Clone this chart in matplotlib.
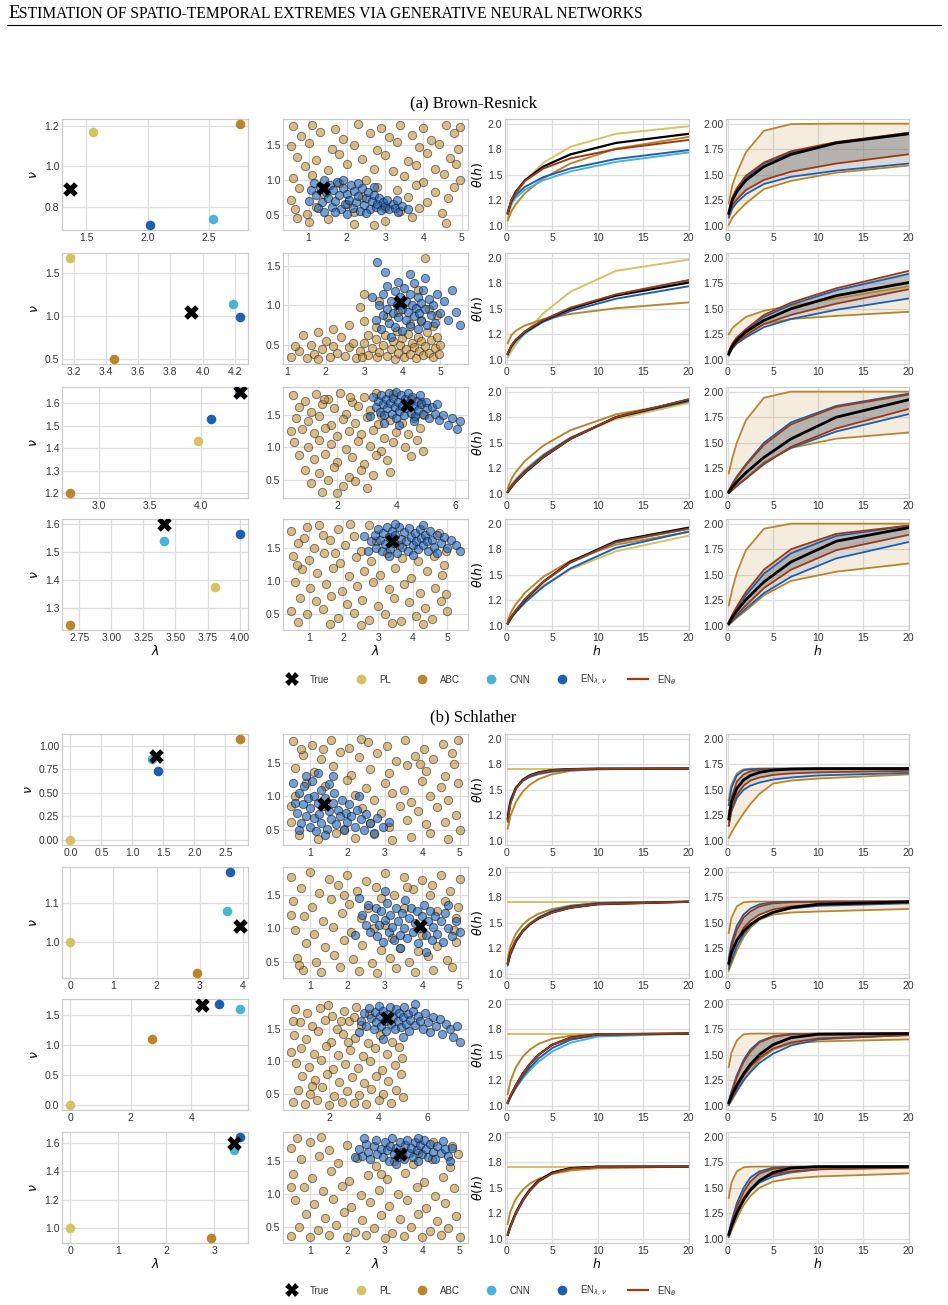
import numpy as np
import matplotlib.pyplot as plt
from matplotlib.lines import Line2D

W, H = 948, 1305

C_TRUE = 'black'
C_PL = '#d5c264'
C_ABC = '#b8862e'
C_CNN = '#4bb3d4'
C_EN = '#1f5faf'
C_ET = '#9b3b14'

# point estimates (lambda, nu), one entry per row
br_true = [(1.37, 0.89), (3.93, 1.04), (4.38, 1.65), (3.41, 1.60)]
br_pl = [(1.55, 1.17), (3.18, 1.67), (3.97, 1.43), (3.81, 1.375)]
br_abc = [(2.75, 1.21), (3.45, 0.50), (2.72, 1.20), (2.68, 1.24)]
br_cnn = [(2.53, 0.74), (4.19, 1.14), (4.37, 1.65), (3.41, 1.54)]
br_en = [(2.02, 0.71), (4.23, 0.99), (4.10, 1.53), (4.00, 1.565)]

sch_true = [(1.38, 0.89), (3.93, 1.04), (4.35, 1.66), (3.41, 1.60)]
sch_pl = [(0.0, 0.0), (0.0, 1.0), (0.0, 0.0), (0.0, 1.0)]
sch_abc = [(2.73, 1.07), (2.93, 0.92), (2.70, 1.10), (2.93, 0.93)]
sch_cnn = [(1.31, 0.86), (3.65, 1.08), (5.60, 1.60), (3.42, 1.55)]
sch_en = [(1.42, 0.73), (3.70, 1.18), (4.93, 1.68), (3.53, 1.64)]

# tick labels of the estimate panels
br_est_xt = [[1.5, 2.0, 2.5], [3.2, 3.4, 3.6, 3.8, 4.0, 4.2], [3.0, 3.5, 4.0],
             [2.75, 3.00, 3.25, 3.50, 3.75, 4.00]]
br_est_yt = [[0.8, 1.0, 1.2], [0.5, 1.0, 1.5], [1.2, 1.3, 1.4, 1.5, 1.6], [1.3, 1.4, 1.5, 1.6]]
sch_est_xt = [[0.0, 0.5, 1.0, 1.5, 2.0, 2.5], [0, 1, 2, 3, 4], [0, 2, 4], [0, 1, 2, 3]]
sch_est_yt = [[0.0, 0.25, 0.5, 0.75, 1.0], [1.0, 1.1], [0.0, 0.5, 1.0, 1.5], [1.0, 1.2, 1.4, 1.6]]
br_smp_xt = [[1, 2, 3, 4, 5], [1, 2, 3, 4, 5], [2, 4, 6], [1, 2, 3, 4, 5]]
sch_smp_xt = [[1, 2, 3, 4, 5], [1, 2, 3, 4, 5], [2, 4, 6], [1, 2, 3, 4, 5]]
smp_yt = [0.5, 1.0, 1.5]

# posterior samples (lambda, nu)
br_abc_smp = [
    [(0.6,1.76),(1.1,1.78),(1.7,1.72),(2.3,1.79),(2.9,1.74),(3.4,1.77),(4.0,1.73),(4.6,1.78),(4.95,1.75),
     (0.8,1.62),(1.3,1.68),(1.9,1.58),(2.6,1.66),(3.1,1.6),(3.7,1.64),(4.2,1.57),(4.8,1.67),
     (0.55,1.48),(1.0,1.52),(1.6,1.44),(2.2,1.5),(2.8,1.42),(3.3,1.53),(3.9,1.46),(4.4,1.51),(4.9,1.43),
     (0.7,1.33),(1.2,1.28),(1.8,1.37),(2.4,1.3),(3.0,1.35),(3.6,1.27),(4.1,1.38),(4.7,1.31),
     (0.9,1.2),(1.5,1.14),(2.0,1.22),(2.7,1.16),(3.2,1.12),(3.8,1.21),(4.3,1.15),(4.85,1.23),
     (0.6,1.02),(1.1,1.07),(2.5,1.0),(3.5,1.05),(4.0,0.97),(4.55,1.08),(4.95,1.0),
     (0.75,0.88),(3.3,0.85),(3.8,0.92),(4.3,0.83),(4.8,0.9),(0.55,0.72),(3.6,0.76),(4.1,0.68),(4.65,0.74),
     (0.65,0.58),(0.95,0.52),(3.4,0.56),(3.9,0.6),(4.5,0.53),(1.0,0.4),(1.5,0.45),(2.2,0.38),(3.0,0.42),
     (3.7,0.47),(4.6,0.39),(0.7,0.46),(2.7,0.36),(1.4,0.8),(2.0,0.65),(2.8,0.9),(1.8,0.95),(2.4,0.75),
     (3.0,0.6),(1.2,0.62),(2.2,0.55)],
    [(1.1,0.35),(1.3,0.42),(1.5,0.33),(1.7,0.38),(1.9,0.45),(2.1,0.34),(2.3,0.4),(2.5,0.36),(2.6,0.47),
     (2.8,0.33),(2.9,0.42),(3.0,0.52),(3.1,0.37),(3.2,0.46),(3.3,0.57),(3.35,0.34),(3.4,0.41),(3.5,0.5),
     (3.55,0.62),(3.6,0.36),(3.7,0.45),(3.75,0.55),(3.8,0.32),(3.85,0.68),(3.9,0.4),(3.95,0.5),(4.0,0.58),
     (4.05,0.35),(4.1,0.44),(4.15,0.64),(4.2,0.38),(4.25,0.52),(4.3,0.47),(4.35,0.33),(4.4,0.6),(4.45,0.42),
     (4.5,0.55),(4.55,0.37),(4.6,0.49),(4.65,0.66),(4.7,0.4),(4.75,0.56),(4.8,0.34),(4.85,0.46),(4.9,0.6),
     (4.95,0.38),(5.0,0.5),(2.0,0.55),(2.4,0.6),(2.7,0.52),(1.6,0.5),(1.2,0.48),(3.1,0.62),(2.2,0.48),
     (1.8,0.32),(2.95,0.35),(2.6,0.75),(3.0,0.8),(3.3,0.72),(3.6,0.85),(4.2,0.76),(4.5,0.82),(4.8,0.74),
     (2.2,0.7),(3.9,0.92),(4.7,0.95),(3.4,1.05),(2.9,0.98),(4.4,1.2),(3.0,1.15),(4.9,0.88),(4.6,1.6),
     (1.8,0.66),(1.4,0.62)],
    [(0.5,1.8),(0.9,1.72),(1.3,1.82),(1.7,1.75),(2.1,1.83),(2.5,1.7),(2.9,1.78),(3.3,1.84),(0.7,1.62),
     (1.1,1.55),(1.5,1.66),(1.9,1.6),(2.3,1.52),(2.7,1.64),(3.1,1.58),(3.5,1.5),(0.6,1.45),(1.0,1.4),
     (1.4,1.48),(1.8,1.35),(2.2,1.44),(2.6,1.38),(3.0,1.46),(3.4,1.36),(3.8,1.42),(4.2,1.38),(4.6,1.45),
     (0.8,1.28),(1.2,1.22),(1.6,1.3),(2.0,1.18),(2.4,1.25),(2.8,1.2),(3.2,1.27),(3.6,1.15),(4.0,1.24),
     (4.4,1.2),(4.8,1.3),(0.55,1.08),(1.0,1.0),(1.4,1.12),(1.8,1.05),(2.3,0.98),(2.7,1.1),(3.1,1.02),
     (3.5,0.95),(3.9,1.08),(4.3,1.0),(4.7,1.12),(0.7,0.88),(1.2,0.82),(1.6,0.9),(2.0,0.78),(2.5,0.85),
     (2.9,0.75),(3.3,0.88),(3.7,0.8),(4.5,0.86),(4.9,0.95),(0.9,0.65),(1.4,0.6),(1.9,0.7),(2.4,0.55),
     (2.8,0.65),(3.2,0.58),(3.8,0.62),(1.1,0.45),(1.7,0.5),(2.2,0.4),(2.6,0.48),(3.0,0.38),(1.5,0.32),
     (2.0,0.3),(4.95,1.5),(4.85,1.7),(3.9,1.82),(4.5,1.75),(0.45,1.25),(2.45,1.78),(1.55,1.74)],
    [(0.5,1.75),(0.95,1.82),(1.4,1.7),(1.85,1.78),(2.3,1.68),(2.75,1.84),(0.7,1.58),(1.15,1.5),(1.6,1.62),
     (2.05,1.55),(2.5,1.46),(2.95,1.6),(0.55,1.38),(1.0,1.32),(1.45,1.42),(1.9,1.28),(2.35,1.36),(2.8,1.3),
     (3.25,1.42),(3.7,1.35),(4.15,1.3),(4.6,1.38),(4.95,1.45),(0.8,1.18),(1.25,1.12),(1.7,1.2),(2.15,1.08),
     (2.6,1.15),(3.05,1.1),(3.5,1.2),(3.95,1.05),(4.4,1.15),(4.85,1.1),(0.6,0.98),(1.05,0.9),(1.5,0.95),
     (1.95,0.85),(2.4,0.92),(2.85,0.98),(3.3,0.88),(3.75,0.95),(4.2,0.82),(4.65,0.9),(0.75,0.75),(1.2,0.7),
     (1.65,0.78),(2.1,0.65),(2.55,0.72),(3.0,0.62),(3.45,0.74),(3.9,0.68),(4.35,0.6),(4.8,0.7),(0.5,0.55),
     (0.95,0.5),(1.4,0.58),(1.85,0.45),(2.3,0.52),(2.75,0.42),(3.2,0.5),(3.65,0.4),(4.1,0.48),(4.55,0.43),
     (5.0,0.55),(0.7,0.38),(1.6,0.36),(2.5,0.34),(3.4,0.37),(4.3,0.35),(4.95,0.8),(4.9,1.25),(4.75,1.72),
     (0.85,1.65),(1.3,1.85),(2.2,1.86),(1.75,1.42),(3.6,1.55),(0.65,1.25)],
]
br_en_smp = [
    [(1.05,0.85),(1.15,0.95),(1.2,0.78),(1.3,0.9),(1.35,0.68),(1.4,0.99),(1.45,0.82),(1.5,0.74),(1.55,0.93),
     (1.6,0.62),(1.65,0.86),(1.7,0.7),(1.75,0.97),(1.8,0.78),(1.85,0.58),(1.9,0.88),(1.95,0.66),(2.0,0.8),
     (2.05,0.72),(2.1,0.92),(2.15,0.6),(2.2,0.84),(2.25,0.69),(2.3,0.77),(2.35,0.56),(2.4,0.88),(2.45,0.64),
     (2.5,0.74),(2.55,0.82),(2.6,0.58),(2.65,0.7),(2.7,0.79),(2.75,0.62),(2.8,0.66),(2.85,0.74),(2.9,0.57),
     (2.95,0.69),(3.0,0.63),(3.05,0.72),(3.1,0.58),(3.2,0.66),(3.25,0.6),(3.35,0.55),(3.45,0.63),(3.6,0.58),
     (1.25,0.6),(1.0,0.7),(1.7,0.55),(2.0,0.52),(2.3,0.95),(1.9,1.0),(2.7,0.9),(3.3,0.72),(1.4,0.55),(2.5,0.53)],
    [(3.4,1.0),(3.5,0.88),(3.5,1.15),(3.6,0.95),(3.6,1.25),(3.65,0.78),(3.7,1.05),(3.75,0.9),(3.8,1.18),
     (3.8,0.72),(3.85,1.0),(3.9,1.3),(3.9,0.85),(3.95,1.1),(4.0,0.95),(4.0,0.68),(4.05,1.22),(4.1,0.82),
     (4.1,1.05),(4.15,0.92),(4.2,1.15),(4.2,0.74),(4.25,1.0),(4.3,0.86),(4.3,1.28),(4.35,0.97),(4.4,1.1),
     (4.4,0.7),(4.45,0.9),(4.5,1.03),(4.5,0.8),(4.55,1.2),(4.6,0.95),(4.65,0.75),(4.7,1.08),(4.75,0.88),
     (4.8,1.0),(4.85,0.78),(4.9,1.15),(5.0,0.9),(5.1,1.05),(5.2,0.82),(5.4,0.92),(5.5,0.75),(3.35,1.55),
     (3.55,1.42),(3.45,0.7),(3.3,0.82),(3.7,0.6),(4.2,1.4),(4.6,1.35),(3.2,1.1),(5.3,1.2)],
    [(3.3,1.62),(3.4,1.72),(3.45,1.55),(3.5,1.8),(3.55,1.66),(3.6,1.5),(3.65,1.75),(3.7,1.6),(3.75,1.83),
     (3.8,1.68),(3.85,1.52),(3.9,1.76),(3.95,1.62),(4.0,1.85),(4.0,1.45),(4.05,1.7),(4.1,1.56),(4.15,1.8),
     (4.2,1.64),(4.25,1.5),(4.3,1.74),(4.35,1.6),(4.4,1.84),(4.45,1.68),(4.5,1.53),(4.55,1.77),(4.6,1.63),
     (4.65,1.48),(4.7,1.72),(4.75,1.58),(4.8,1.8),(4.85,1.66),(4.9,1.52),(5.0,1.7),(5.05,1.6),(5.1,1.45),
     (5.2,1.62),(5.3,1.52),(5.45,1.42),(5.6,1.5),(5.75,1.35),(5.9,1.45),(6.05,1.28),(6.15,1.4),(3.2,1.78),
     (3.1,1.48),(3.6,1.38),(4.1,1.35),(4.6,1.4),(5.4,1.66)],
    [(2.8,1.6),(2.9,1.7),(2.95,1.5),(3.0,1.78),(3.05,1.62),(3.1,1.45),(3.15,1.72),(3.2,1.56),(3.25,1.82),
     (3.3,1.66),(3.35,1.48),(3.4,1.76),(3.45,1.58),(3.5,1.7),(3.55,1.42),(3.6,1.82),(3.65,1.64),(3.7,1.52),
     (3.75,1.74),(3.8,1.6),(3.85,1.45),(3.9,1.8),(3.95,1.66),(4.0,1.54),(4.05,1.72),(4.1,1.6),(4.15,1.48),
     (4.2,1.78),(4.25,1.65),(4.3,1.55),(4.35,1.7),(4.4,1.6),(4.45,1.45),(4.5,1.75),(4.55,1.62),(4.6,1.52),
     (4.7,1.7),(4.8,1.58),(4.9,1.66),(5.0,1.5),(5.1,1.62),(5.25,1.55),(5.35,1.45),(2.7,1.45),(2.6,1.68),
     (3.3,1.38),(4.0,1.4),(4.7,1.42),(3.5,1.86),(4.3,1.85)],
]
sch_abc_smp = [
    [(0.55,1.82),(1.05,1.76),(1.55,1.84),(2.05,1.72),(2.55,1.8),(3.05,1.75),(3.55,1.83),(4.05,1.7),(4.55,1.78),
     (4.95,1.84),(0.8,1.62),(1.3,1.55),(1.8,1.66),(2.3,1.58),(2.8,1.64),(3.3,1.52),(3.8,1.6),(4.3,1.56),
     (4.8,1.65),(0.6,1.42),(1.1,1.36),(1.6,1.45),(2.1,1.32),(2.6,1.4),(3.1,1.34),(3.6,1.46),(4.1,1.38),
     (4.6,1.3),(0.9,1.2),(1.4,1.15),(2.0,1.24),(2.5,1.12),(3.0,1.2),(3.5,1.1),(4.0,1.22),(4.5,1.14),
     (4.95,1.2),(2.2,1.02),(2.7,0.95),(3.2,1.05),(3.7,0.92),(4.2,1.0),(4.7,0.94),(2.4,0.82),(2.9,0.75),
     (3.4,0.85),(3.9,0.78),(4.4,0.84),(4.9,0.72),(0.5,0.62),(2.6,0.6),(3.1,0.55),(3.6,0.65),(4.1,0.58),
     (4.6,0.62),(0.7,0.42),(1.2,0.36),(1.7,0.45),(2.2,0.38),(2.7,0.44),(3.2,0.35),(3.7,0.4),(4.2,0.46),
     (4.7,0.37),(5.0,0.5),(0.6,1.0),(0.5,0.85),(1.9,0.52),(4.85,1.48),(0.75,1.7),(3.95,1.48),(1.35,1.7),
     (2.35,1.85)],
    [(0.5,1.76),(1.0,1.84),(1.5,1.74),(2.0,1.8),(2.5,1.7),(3.0,1.82),(3.5,1.76),(4.0,1.72),(4.5,1.8),
     (5.0,1.74),(0.75,1.6),(1.25,1.52),(1.75,1.64),(2.25,1.56),(2.75,1.62),(3.25,1.5),(3.75,1.58),(4.25,1.65),
     (4.75,1.55),(0.55,1.4),(1.05,1.32),(1.55,1.44),(2.05,1.36),(2.55,1.3),(4.6,1.4),(4.95,1.32),(0.85,1.18),
     (1.35,1.1),(1.85,1.22),(2.35,1.15),(4.9,1.15),(0.6,0.98),(1.1,0.92),(1.6,1.02),(2.1,0.95),(4.85,0.98),
     (0.9,0.78),(1.4,0.72),(1.9,0.82),(2.4,0.75),(2.9,0.68),(3.4,0.7),(3.9,0.66),(4.4,0.74),(4.9,0.8),
     (0.65,0.56),(1.15,0.5),(1.65,0.6),(2.15,0.54),(2.65,0.48),(3.15,0.56),(3.65,0.5),(4.15,0.58),(4.65,0.52),
     (0.8,0.38),(1.3,0.34),(1.8,0.42),(2.3,0.36),(2.8,0.33),(3.3,0.4),(3.8,0.35),(4.3,0.38),(4.8,0.42),
     (3.0,1.05),(3.5,1.3),(4.0,0.9),(3.2,0.86),(4.4,1.25),(2.7,1.0),(0.5,1.2),(1.9,1.5),(3.6,1.62),
     (4.2,1.5),(2.9,1.45),(0.7,0.45)],
    [(0.6,1.8),(1.1,1.74),(1.6,1.82),(2.1,1.7),(2.6,1.78),(3.1,1.84),(0.8,1.6),(1.3,1.54),(1.8,1.64),
     (2.3,1.5),(2.8,1.62),(3.3,1.56),(0.55,1.4),(1.05,1.34),(1.55,1.46),(2.05,1.3),(2.55,1.42),(3.05,1.36),
     (3.55,1.28),(4.05,1.4),(4.55,1.3),(0.85,1.2),(1.35,1.12),(1.85,1.24),(2.35,1.1),(2.85,1.18),(3.35,1.08),
     (3.85,1.2),(4.35,1.12),(4.85,1.22),(0.65,0.98),(1.15,0.92),(1.65,1.02),(2.15,0.88),(2.65,0.96),
     (3.15,0.9),(3.65,1.0),(4.15,0.86),(4.65,0.95),(0.9,0.78),(1.4,0.72),(1.9,0.8),(2.4,0.68),(2.9,0.76),
     (3.4,0.66),(3.9,0.78),(4.4,0.7),(4.9,0.8),(0.7,0.56),(1.2,0.5),(1.7,0.6),(2.2,0.46),(2.7,0.55),
     (3.2,0.48),(3.7,0.58),(4.2,0.5),(4.7,0.56),(0.5,0.38),(1.0,0.35),(1.5,0.4),(2.0,0.33),(2.5,0.38),
     (3.0,0.36),(3.5,0.34),(4.0,0.4),(4.5,0.36),(5.0,0.45),(4.95,1.05),(0.5,1.62),(1.95,1.86),(2.45,1.62),
     (3.6,1.72),(3.0,1.68),(0.45,1.15),(1.3,0.62),(2.75,1.3)],
    [(0.5,1.7),(1.0,1.78),(1.5,1.66),(2.0,1.74),(4.8,1.72),(4.95,1.6),(0.75,1.52),(1.25,1.58),(1.75,1.46),
     (2.25,1.54),(2.75,1.42),(3.25,1.5),(3.75,1.45),(4.25,1.52),(4.75,1.4),(0.55,1.3),(1.05,1.24),(1.55,1.34),
     (2.05,1.2),(2.55,1.28),(3.05,1.22),(3.55,1.32),(4.05,1.18),(4.55,1.26),(0.85,1.1),(1.35,1.04),(1.85,1.12),
     (2.35,0.98),(2.85,1.06),(3.35,1.0),(3.85,1.1),(4.35,0.96),(4.85,1.08),(0.6,0.9),(1.1,0.84),(1.6,0.92),
     (2.1,0.8),(2.6,0.88),(3.1,0.82),(3.6,0.9),(4.1,0.78),(4.6,0.86),(0.9,0.7),(1.4,0.64),(1.9,0.72),
     (2.4,0.6),(2.9,0.68),(3.4,0.62),(3.9,0.7),(4.4,0.58),(4.9,0.66),(0.7,0.5),(1.2,0.45),(1.7,0.52),
     (2.2,0.42),(2.7,0.48),(3.2,0.4),(3.7,0.5),(4.2,0.44),(4.7,0.48),(0.5,0.36),(1.0,0.34),(1.5,0.38),
     (2.0,0.35),(2.5,0.37),(3.0,0.33),(3.5,0.36),(4.0,0.34),(4.5,0.38),(5.0,0.35),(0.65,1.84),(1.3,1.86),
     (4.3,1.78),(2.9,1.3),(0.5,1.1),(3.9,1.62)],
]
sch_en_smp = [
    [(0.6,0.9),(0.65,0.75),(0.7,1.05),(0.75,0.6),(0.8,0.88),(0.85,1.15),(0.9,0.7),(0.95,0.98),(1.0,0.55),
     (1.0,0.82),(1.05,1.22),(1.1,0.68),(1.1,1.0),(1.15,0.48),(1.2,0.9),(1.25,0.74),(1.3,1.1),(1.3,0.6),
     (1.35,0.85),(1.4,0.97),(1.45,0.52),(1.5,0.78),(1.5,1.18),(1.55,0.66),(1.6,0.9),(1.65,1.05),(1.7,0.58),
     (1.75,0.8),(1.8,0.7),(1.85,0.95),(1.9,0.5),(1.95,0.75),(2.0,0.62),(2.05,0.88),(2.1,0.7),(2.2,0.55),
     (2.25,0.8),(2.35,0.66),(2.45,0.5),(2.5,0.74),(2.6,0.6),(2.7,0.45),(2.8,0.68),(2.95,0.55),(3.1,0.62),
     (0.55,1.2),(0.9,1.3),(1.6,1.3),(0.7,0.5),(1.4,0.42),(2.3,1.0),(1.2,1.35)],
    [(2.4,1.2),(2.5,1.05),(2.55,1.35),(2.6,0.95),(2.7,1.15),(2.75,1.3),(2.8,0.88),(2.85,1.05),(2.9,1.25),
     (2.95,0.8),(3.0,1.12),(3.05,1.38),(3.1,0.95),(3.15,1.2),(3.2,1.02),(3.25,0.82),(3.3,1.3),(3.35,1.1),
     (3.4,0.9),(3.45,1.22),(3.5,1.0),(3.55,1.42),(3.6,0.85),(3.65,1.15),(3.7,1.3),(3.75,0.95),(3.8,1.08),
     (3.85,1.25),(3.9,0.78),(3.95,1.0),(4.0,1.18),(4.05,1.35),(4.1,0.9),(4.15,1.1),(4.2,1.25),(4.25,0.82),
     (4.3,1.02),(4.35,1.18),(4.4,0.92),(4.5,1.1),(4.55,0.8),(4.6,1.22),(4.7,1.0),(4.8,0.88),(4.9,1.1),
     (5.0,0.95),(2.3,1.45),(3.0,1.55),(3.4,0.7),(4.1,0.65),(4.7,1.35),(2.2,0.9)],
    [(3.3,1.62),(3.4,1.75),(3.5,1.55),(3.6,1.82),(3.7,1.66),(3.8,1.5),(3.85,1.76),(3.9,1.6),(4.0,1.85),
     (4.05,1.7),(4.1,1.54),(4.2,1.78),(4.25,1.62),(4.3,1.46),(4.4,1.72),(4.45,1.84),(4.5,1.58),(4.6,1.68),
     (4.65,1.5),(4.7,1.8),(4.8,1.62),(4.85,1.74),(4.9,1.52),(5.0,1.68),(5.05,1.84),(5.1,1.58),(5.2,1.72),
     (5.25,1.46),(5.3,1.64),(5.4,1.78),(5.5,1.56),(5.6,1.7),(5.7,1.62),(5.8,1.5),(5.9,1.74),(6.0,1.6),
     (6.1,1.45),(6.2,1.68),(6.35,1.55),(6.5,1.65),(6.6,1.42),(6.75,1.58),(6.9,1.5),(7.05,1.38),(7.2,1.55),
     (7.3,1.3),(4.2,1.35),(5.5,1.88),(3.2,1.45),(5.0,1.38)],
    [(2.3,1.68),(2.4,1.58),(2.5,1.76),(2.55,1.64),(2.6,1.52),(2.7,1.72),(2.75,1.82),(2.8,1.6),(2.9,1.68),
     (2.95,1.55),(3.0,1.78),(3.05,1.66),(3.1,1.5),(3.15,1.72),(3.2,1.84),(3.25,1.6),(3.3,1.7),(3.35,1.56),
     (3.4,1.78),(3.45,1.64),(3.5,1.52),(3.55,1.74),(3.6,1.82),(3.65,1.62),(3.7,1.7),(3.75,1.56),(3.8,1.78),
     (3.85,1.66),(3.9,1.5),(3.95,1.74),(4.0,1.6),(4.05,1.82),(4.1,1.68),(4.15,1.55),(4.2,1.76),(4.3,1.64),
     (4.35,1.52),(4.4,1.72),(4.5,1.62),(4.55,1.8),(4.6,1.68),(4.7,1.58),(4.8,1.7),(2.2,1.55),(2.45,1.85),
     (3.3,1.45),(3.9,1.85),(4.75,1.5)],
]

# extremal coefficient theta(h) read at these lags
h_br = [0.1, 0.5, 1, 2, 4, 7, 12, 20]
h_sch = [0.1, 0.4, 1, 1.75, 2.5, 3.5, 5, 7, 10, 20]

br_theta_true = [[1.124,1.250,1.336,1.446,1.580,1.699,1.811,1.900],
                 [1.059,1.136,1.194,1.275,1.386,1.500,1.628,1.756],
                 [1.018,1.066,1.118,1.207,1.357,1.538,1.750,1.920],
                 [1.024,1.086,1.148,1.256,1.430,1.626,1.828,1.960]]
br_theta_pl = [[1.080,1.203,1.301,1.438,1.616,1.773,1.900,1.974],
               [1.022,1.085,1.151,1.266,1.454,1.666,1.870,1.980],
               [1.029,1.091,1.148,1.240,1.385,1.547,1.730,1.888],
               [1.033,1.099,1.158,1.252,1.394,1.552,1.729,1.882]]
br_theta_abc = [[1.053,1.142,1.214,1.320,1.465,1.610,1.755,1.870],
                [1.163,1.242,1.286,1.337,1.397,1.449,1.505,1.562],
                [1.055,1.144,1.216,1.322,1.471,1.622,1.777,1.902],
                [1.052,1.141,1.214,1.323,1.479,1.636,1.794,1.918]]
br_theta_cnn = [[1.120,1.215,1.277,1.353,1.446,1.533,1.626,1.718],
                [1.047,1.118,1.175,1.257,1.374,1.497,1.638,1.777],
                [1.018,1.067,1.119,1.208,1.358,1.539,1.750,1.918],
                [1.026,1.091,1.154,1.260,1.428,1.616,1.812,1.949]]
br_theta_en = [[1.137,1.240,1.303,1.382,1.476,1.562,1.654,1.741],
               [1.062,1.138,1.194,1.270,1.373,1.478,1.598,1.720],
               [1.023,1.080,1.135,1.227,1.376,1.549,1.745,1.907],
               [1.022,1.078,1.134,1.229,1.383,1.562,1.763,1.922]]
br_theta_et = [[1.120,1.250,1.330,1.440,1.560,1.660,1.750,1.840],
               [1.060,1.140,1.200,1.280,1.390,1.510,1.640,1.780],
               [1.020,1.070,1.120,1.210,1.360,1.540,1.750,1.925],
               [1.024,1.090,1.150,1.260,1.430,1.620,1.820,1.950]]

# pointwise bands
br_abc_hi = [[1.22,1.40,1.52,1.72,1.93,1.995,2.0,2.0],
             [1.25,1.31,1.35,1.42,1.48,1.53,1.60,1.72],
             [1.20,1.35,1.50,1.72,1.94,2.0,2.0,2.0],
             [1.20,1.36,1.52,1.74,1.95,2.0,2.0,2.0]]
br_abc_lo = [[1.01,1.08,1.13,1.22,1.36,1.44,1.52,1.59],
             [1.04,1.12,1.18,1.26,1.35,1.40,1.43,1.47],
             [1.01,1.04,1.08,1.15,1.31,1.45,1.54,1.60],
             [1.01,1.04,1.08,1.15,1.30,1.44,1.53,1.61]]
br_en_hi = [[1.12,1.26,1.35,1.47,1.61,1.72,1.81,1.91],
            [1.08,1.15,1.21,1.29,1.42,1.54,1.68,1.84],
            [1.03,1.10,1.17,1.29,1.50,1.70,1.86,1.98],
            [1.03,1.10,1.17,1.30,1.51,1.71,1.88,1.98]]
br_en_lo = [[1.08,1.17,1.23,1.31,1.41,1.48,1.54,1.61],
            [1.05,1.11,1.16,1.22,1.32,1.40,1.49,1.60],
            [1.01,1.04,1.08,1.15,1.30,1.45,1.61,1.78],
            [1.01,1.05,1.09,1.17,1.32,1.48,1.66,1.82]]
br_et_hi = [[1.14,1.28,1.37,1.49,1.62,1.73,1.82,1.91],
            [1.08,1.16,1.22,1.30,1.44,1.56,1.70,1.87],
            [1.03,1.09,1.16,1.28,1.48,1.68,1.85,1.97],
            [1.03,1.11,1.19,1.33,1.55,1.75,1.90,1.98]]
br_et_lo = [[1.10,1.20,1.26,1.35,1.45,1.53,1.61,1.70],
            [1.06,1.12,1.17,1.24,1.35,1.44,1.55,1.69],
            [1.01,1.04,1.08,1.15,1.29,1.46,1.64,1.83],
            [1.02,1.06,1.11,1.20,1.37,1.55,1.74,1.89]]

sch_theta_true = [[1.215,1.376,1.514,1.596,1.639,1.670,1.692,1.702,1.706,1.707],
                  [1.104,1.211,1.327,1.419,1.482,1.542,1.601,1.647,1.681,1.705],
                  [1.031,1.097,1.204,1.315,1.405,1.501,1.598,1.667,1.700,1.707],
                  [1.042,1.126,1.256,1.381,1.477,1.569,1.649,1.692,1.706,1.707]]
sch_theta_pl = [[1.707,1.707,1.707,1.707,1.707,1.707,1.707,1.707,1.707,1.707],
                [1.707,1.707,1.707,1.707,1.707,1.707,1.707,1.707,1.707,1.707],
                [1.707,1.707,1.707,1.707,1.707,1.707,1.707,1.707,1.707,1.707],
                [1.707,1.707,1.707,1.707,1.707,1.707,1.707,1.707,1.707,1.707]]
sch_theta_abc = [[1.120,1.245,1.381,1.481,1.547,1.604,1.653,1.684,1.701,1.707],
                 [1.148,1.272,1.394,1.481,1.538,1.588,1.634,1.668,1.691,1.706],
                 [1.115,1.240,1.378,1.481,1.548,1.607,1.656,1.686,1.702,1.707],
                 [1.146,1.270,1.392,1.480,1.538,1.588,1.635,1.669,1.691,1.706]]
sch_theta_cnn = [[1.228,1.389,1.523,1.601,1.642,1.672,1.692,1.702,1.706,1.707],
                 [1.101,1.209,1.331,1.426,1.493,1.555,1.614,1.659,1.689,1.707],
                 [1.028,1.085,1.175,1.268,1.347,1.434,1.532,1.617,1.678,1.707],
                 [1.046,1.133,1.263,1.386,1.479,1.568,1.646,1.690,1.706,1.707]]
sch_theta_en = [[1.259,1.405,1.519,1.587,1.624,1.654,1.678,1.693,1.701,1.707],
                [1.084,1.187,1.310,1.412,1.483,1.551,1.616,1.663,1.693,1.707],
                [1.027,1.085,1.182,1.284,1.370,1.464,1.566,1.646,1.694,1.707],
                [1.038,1.118,1.244,1.368,1.466,1.560,1.644,1.691,1.706,1.707]]
sch_theta_et = [[1.190,1.370,1.510,1.590,1.635,1.665,1.690,1.700,1.705,1.707],
                [1.100,1.210,1.330,1.420,1.485,1.545,1.600,1.648,1.682,1.705],
                [1.030,1.100,1.200,1.315,1.405,1.500,1.598,1.665,1.700,1.707],
                [1.040,1.120,1.250,1.375,1.470,1.560,1.640,1.688,1.703,1.707]]

sch_abc_hi = [[1.40,1.55,1.66,1.70,1.706,1.707,1.707,1.707,1.707,1.707],
              [1.40,1.55,1.66,1.70,1.706,1.707,1.707,1.707,1.707,1.707],
              [1.38,1.52,1.64,1.70,1.706,1.707,1.707,1.707,1.707,1.707],
              [1.40,1.55,1.66,1.70,1.706,1.707,1.707,1.707,1.707,1.707]]
sch_abc_lo = [[1.03,1.08,1.17,1.27,1.36,1.46,1.56,1.59,1.61,1.65],
              [1.03,1.10,1.23,1.36,1.45,1.53,1.58,1.60,1.61,1.635],
              [1.01,1.05,1.14,1.25,1.34,1.45,1.55,1.61,1.63,1.65],
              [1.02,1.08,1.20,1.33,1.42,1.50,1.56,1.59,1.61,1.64]]
sch_en_hi = [[1.35,1.52,1.64,1.69,1.70,1.705,1.706,1.707,1.707,1.707],
             [1.15,1.30,1.47,1.58,1.64,1.68,1.70,1.705,1.707,1.707],
             [1.04,1.14,1.30,1.45,1.55,1.63,1.68,1.70,1.706,1.707],
             [1.05,1.17,1.35,1.50,1.60,1.66,1.695,1.705,1.707,1.707]]
sch_en_lo = [[1.15,1.29,1.42,1.50,1.54,1.57,1.60,1.62,1.64,1.665],
             [1.05,1.13,1.27,1.39,1.47,1.54,1.60,1.64,1.665,1.69],
             [1.01,1.06,1.15,1.25,1.33,1.42,1.51,1.59,1.65,1.695],
             [1.02,1.10,1.24,1.38,1.47,1.55,1.61,1.65,1.68,1.70]]
sch_et_hi = [[1.25,1.42,1.58,1.65,1.68,1.695,1.70,1.705,1.707,1.71],
             [1.12,1.26,1.43,1.55,1.61,1.66,1.69,1.70,1.706,1.71],
             [1.03,1.12,1.28,1.43,1.53,1.62,1.675,1.70,1.706,1.71],
             [1.04,1.14,1.31,1.46,1.56,1.64,1.685,1.70,1.706,1.71]]
sch_et_lo = [[1.15,1.30,1.45,1.54,1.59,1.62,1.645,1.66,1.67,1.685],
             [1.08,1.18,1.33,1.45,1.52,1.58,1.63,1.66,1.68,1.695],
             [1.02,1.07,1.18,1.29,1.38,1.47,1.56,1.62,1.66,1.69],
             [1.03,1.11,1.26,1.40,1.49,1.57,1.63,1.66,1.68,1.695]]

plt.rcParams['font.family'] = ['Liberation Sans', 'DejaVu Sans']
plt.rcParams['mathtext.fontset'] = 'dejavusans'

fig = plt.figure(figsize=(W / 100, H / 100), dpi=100)

col_x = [62, 283, 505, 726]
col_w = [186, 185, 184, 183]
br_tops = [119, 253, 387, 519]
sch_tops = [734, 867, 999, 1132]
ROW_H = 111


def make_ax(col, top):
    return fig.add_axes([col_x[col] / W, 1 - (top + ROW_H) / H, col_w[col] / W, ROW_H / H])


def style(ax):
    ax.set_facecolor('white')
    ax.grid(True, color='#dddddd', lw=0.9)
    ax.set_axisbelow(True)
    for s in ax.spines.values():
        s.set_color('#cccccc')
        s.set_linewidth(0.9)
    ax.tick_params(length=0, labelsize=7.5, colors='#333333', pad=2)


def draw_block(tops, true, pl, abc, cnn, en, est_xt, est_yt, smp_xt, abc_smp, en_smp,
               hh, th_true, th_pl, th_abc, th_cnn, th_en, th_et,
               abc_hi, abc_lo, en_hi, en_lo, et_hi, et_lo):
    for r, top in enumerate(tops):
        last = r == len(tops) - 1
        # estimates
        ax = make_ax(0, top)
        style(ax)
        for pts, c in [(pl, C_PL), (abc, C_ABC), (cnn, C_CNN), (en, C_EN)]:
            ax.scatter(pts[r][0], pts[r][1], s=48, color=c, zorder=3, lw=0)
        ax.scatter(true[r][0], true[r][1], s=110, marker='X', color=C_TRUE, zorder=4, lw=0)
        ax.set_xticks(est_xt[r])
        ax.set_yticks(est_yt[r])
        ax.set_ylabel(r'$\nu$', fontsize=9, labelpad=3)
        if last:
            ax.set_xlabel(r'$\lambda$', fontsize=9, labelpad=1)

        # posterior samples
        ax = make_ax(1, top)
        style(ax)
        a = np.array(abc_smp[r])
        e = np.array(en_smp[r])
        ax.scatter(a[:, 0], a[:, 1], s=36, color=C_ABC, alpha=0.55,
                   edgecolors='#2a1e08', linewidths=0.7, zorder=2)
        ax.scatter(e[:, 0], e[:, 1], s=36, color=C_EN, alpha=0.6,
                   edgecolors='#0c1a30', linewidths=0.7, zorder=3)
        ax.scatter(true[r][0], true[r][1], s=110, marker='X', color=C_TRUE, zorder=4, lw=0)
        ax.set_xticks(smp_xt[r])
        ax.set_yticks(smp_yt)
        if last:
            ax.set_xlabel(r'$\lambda$', fontsize=9, labelpad=1)

        # extremal coefficient of the point estimates
        ax = make_ax(2, top)
        style(ax)
        ax.plot(hh, th_pl[r], color=C_PL, lw=1.4)
        ax.plot(hh, th_abc[r], color=C_ABC, lw=1.4)
        ax.plot(hh, th_cnn[r], color=C_CNN, lw=1.4)
        ax.plot(hh, th_en[r], color=C_EN, lw=1.4)
        ax.plot(hh, th_true[r], color=C_TRUE, lw=1.6)
        ax.plot(hh, th_et[r], color=C_ET, lw=1.4)
        ax.set_xlim(-0.2, 20.05)
        ax.set_ylim(0.96, 2.045)
        ax.set_xticks([0, 5, 10, 15, 20])
        ax.set_yticks([1.0, 1.25, 1.5, 1.75, 2.0])
        ax.set_yticklabels(['1.0', '1.2', '1.5', '1.8', '2.0'])
        ax.set_ylabel(r'$\theta(h)$', fontsize=9, labelpad=2)
        if last:
            ax.set_xlabel(r'$h$', fontsize=9, labelpad=1)

        # uncertainty bands
        ax = make_ax(3, top)
        style(ax)
        ax.fill_between(hh, abc_lo[r], abc_hi[r], color=C_ABC, alpha=0.15, lw=0)
        ax.fill_between(hh, en_lo[r], en_hi[r], color=C_EN, alpha=0.13, lw=0)
        ax.fill_between(hh, et_lo[r], et_hi[r], color='#6e625a', alpha=0.32, lw=0)
        for yy in (abc_lo[r], abc_hi[r]):
            ax.plot(hh, yy, color=C_ABC, lw=1.3)
        for yy in (en_lo[r], en_hi[r]):
            ax.plot(hh, yy, color=C_EN, lw=1.3)
        for yy in (et_lo[r], et_hi[r]):
            ax.plot(hh, yy, color=C_ET, lw=1.3)
        ax.plot(hh, th_true[r], color=C_TRUE, lw=2.0)
        ax.set_xlim(-0.2, 20.05)
        ax.set_ylim(0.96, 2.045)
        ax.set_xticks([0, 5, 10, 15, 20])
        ax.set_yticks([1.0, 1.25, 1.5, 1.75, 2.0])
        ax.set_yticklabels(['1.00', '1.25', '1.50', '1.75', '2.00'])
        if last:
            ax.set_xlabel(r'$h$', fontsize=9, labelpad=1)


draw_block(br_tops, br_true, br_pl, br_abc, br_cnn, br_en, br_est_xt, br_est_yt, br_smp_xt,
           br_abc_smp, br_en_smp, h_br, br_theta_true, br_theta_pl, br_theta_abc,
           br_theta_cnn, br_theta_en, br_theta_et,
           br_abc_hi, br_abc_lo, br_en_hi, br_en_lo, br_et_hi, br_et_lo)
draw_block(sch_tops, sch_true, sch_pl, sch_abc, sch_cnn, sch_en, sch_est_xt, sch_est_yt, sch_smp_xt,
           sch_abc_smp, sch_en_smp, h_sch, sch_theta_true, sch_theta_pl, sch_theta_abc,
           sch_theta_cnn, sch_theta_en, sch_theta_et,
           sch_abc_hi, sch_abc_lo, sch_en_hi, sch_en_lo, sch_et_hi, sch_et_lo)

# header
serif = ['Liberation Serif', 'DejaVu Serif']
fig.text(8 / W, 1 - 18 / H, 'E', family=serif, fontsize=13.5, va='baseline')
fig.text(19 / W, 1 - 18 / H, 'STIMATION OF SPATIO-TEMPORAL EXTREMES VIA GENERATIVE NEURAL NETWORKS',
         family=serif, fontsize=11.2, va='baseline')
fig.add_artist(Line2D([7 / W, 941 / W], [1 - 25 / H, 1 - 25 / H], color='black', lw=0.8))

fig.text(473 / W, 1 - 103 / H, '(a) Brown-Resnick', family=serif, fontsize=12, ha='center', va='center')
fig.text(473 / W, 1 - 717 / H, '(b) Schlather', family=serif, fontsize=12, ha='center', va='center')

handles = [
    Line2D([], [], marker='X', color=C_TRUE, ls='', markersize=10, markeredgewidth=0),
    Line2D([], [], marker='o', color=C_PL, ls='', markersize=7, markeredgewidth=0),
    Line2D([], [], marker='o', color=C_ABC, ls='', markersize=7, markeredgewidth=0),
    Line2D([], [], marker='o', color=C_CNN, ls='', markersize=7, markeredgewidth=0),
    Line2D([], [], marker='o', color=C_EN, ls='', markersize=7, markeredgewidth=0),
    Line2D([], [], color=C_ET, lw=1.6),
]
labels = ['True', 'PL', 'ABC', 'CNN', r'EN$_{\lambda,\nu}$', r'EN$_\theta$']
for y in (680, 1291):
    fig.legend(handles, labels, loc='center', bbox_to_anchor=(479 / W, 1 - y / H), ncol=6,
               frameon=False, fontsize=7, columnspacing=2.2, handletextpad=0.9, handlelength=2.0,
               labelcolor='#333333')

fig.savefig('out.png', dpi=100, facecolor='white')
